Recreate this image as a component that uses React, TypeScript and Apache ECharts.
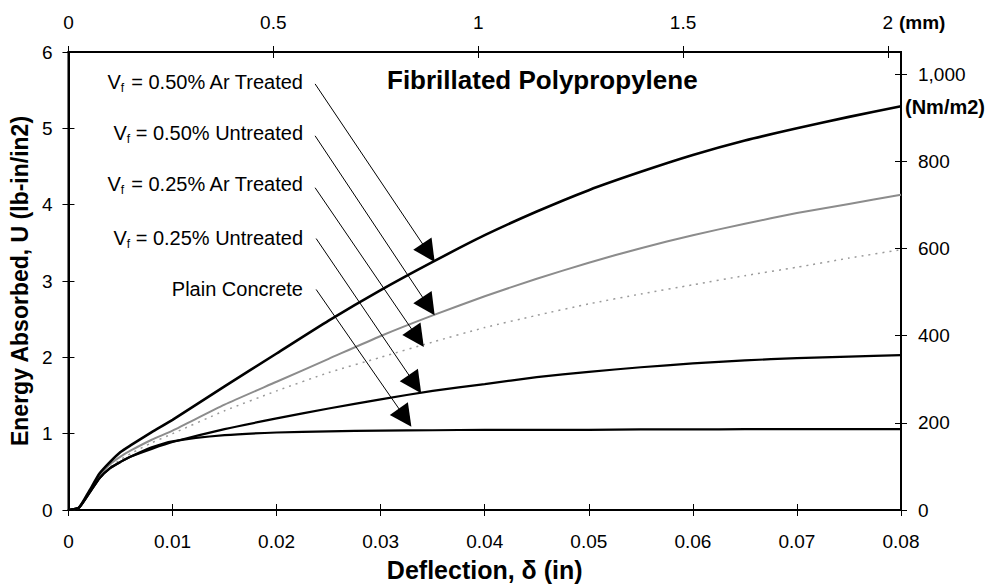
import React, { useEffect, useRef } from "react";
import * as echarts from "echarts";

// Deflection (in)
const deflection = [0, 0.001, 0.002, 0.003, 0.004, 0.005, 0.006, 0.008, 0.01, 0.015, 0.02, 0.025, 0.03, 0.035, 0.04, 0.045, 0.05, 0.055, 0.06, 0.065, 0.07, 0.075, 0.08];

// Energy absorbed U (lb-in/in2)
const arTreated050 = [0, 0.03, 0.25, 0.48, 0.63, 0.76, 0.85, 1.02, 1.18, 1.62, 2.05, 2.48, 2.88, 3.25, 3.6, 3.91, 4.19, 4.43, 4.65, 4.84, 5.0, 5.15, 5.29];
const untreated050 = [0, 0.03, 0.24, 0.45, 0.6, 0.7, 0.78, 0.92, 1.04, 1.38, 1.68, 1.98, 2.28, 2.55, 2.8, 3.03, 3.24, 3.43, 3.6, 3.75, 3.89, 4.01, 4.13];
const arTreated025 = [0, 0.03, 0.22, 0.42, 0.56, 0.66, 0.74, 0.88, 1.0, 1.3, 1.56, 1.8, 2.0, 2.2, 2.39, 2.55, 2.7, 2.83, 2.95, 3.07, 3.18, 3.3, 3.41];
const untreated025 = [0, 0.03, 0.22, 0.42, 0.55, 0.63, 0.7, 0.8, 0.89, 1.06, 1.2, 1.33, 1.45, 1.56, 1.65, 1.74, 1.81, 1.87, 1.92, 1.96, 1.99, 2.01, 2.03];
const plainConcrete = [0, 0.03, 0.22, 0.42, 0.55, 0.63, 0.7, 0.82, 0.9, 0.98, 1.015, 1.03, 1.04, 1.045, 1.05, 1.05, 1.05, 1.055, 1.055, 1.06, 1.06, 1.06, 1.06];

// Annotation labels (text after the "V_f" symbol)
const labelTexts = [" = 0.50% Ar Treated", " = 0.50% Untreated", " = 0.25% Ar Treated", " = 0.25% Untreated", "Plain Concrete"];
const labelHasVf = [true, true, true, true, false];

// Axis ranges
const xMax = 0.08;
const yMax = 6;
const mmMax = 0.08 * 25.4; // 2.032 mm
const nmMax = 6 * 175.127; // N·m/m2 equivalent

const pair = (xs: number[], ys: number[]) => xs.map((x, i) => [x, ys[i]]);

export default function App() {
  const ref = useRef<HTMLDivElement>(null);
  useEffect(() => {
    if (!ref.current) return;
    const chart = echarts.init(ref.current, undefined, { renderer: "svg" });
    const font = "'Liberation Sans', Arial, Helvetica, sans-serif";

    // arrow start (near label) and head-centre, in data coords
    const arrowStart = [[0.0237, 5.582], [0.0237, 4.902], [0.0237, 4.222], [0.0238, 3.556], [0.0238, 2.889]];
    const arrowEnd = [[0.0346, 3.37], [0.0346, 2.67], [0.03355, 2.255], [0.0333, 1.65], [0.03235, 1.21]];
    const labelY = [82, 133, 184, 238, 289];

    const isMult = (v: number, step: number) => Math.abs(v / step - Math.round(v / step)) < 1e-6;

    const baseTickX = { min: 0, max: xMax, interval: 0.01 };
    const baseTickTop = { min: 0, max: mmMax, interval: 0.5 };
    const baseTickY = { min: 0, max: yMax, interval: 1 };
    const baseTickR = { min: 0, max: nmMax, interval: 200 };

    const axisLine = { show: true, onZero: false, lineStyle: { color: "#000", width: 2 } };
    const lbl = { color: "#000", fontSize: 19, fontFamily: font };
    const insideCopy = {
      axisLine: { show: false, onZero: false },
      axisLabel: { show: false },
      axisTick: { show: true, inside: true, length: 6, lineStyle: { color: "#000", width: 1 } },
      splitLine: { show: false },
    };
    const outTick = { show: true, inside: false, length: 6, lineStyle: { color: "#000", width: 1 } };

    const option: any = {
      animation: false,
      backgroundColor: "#fff",
      title: {
        text: "Fibrillated Polypropylene",
        left: 382,
        top: 62,
        textStyle: { fontSize: 26, fontWeight: "bold", color: "#000", fontFamily: font },
      },
      grid: { left: 64, right: 89, top: 52, bottom: 76, containLabel: false, show: true, borderColor: "#000", borderWidth: 2, backgroundColor: "transparent" },
      xAxis: [
        {
          type: "value", position: "bottom", ...baseTickX,
          axisLine, axisTick: outTick, splitLine: { show: false },
          axisLabel: { ...lbl, margin: 22, formatter: (v: number) => (v === 0 ? "0" : v.toFixed(2)) },
          name: "Deflection, \u03b4 (in)", nameLocation: "middle", nameGap: 47,
          nameTextStyle: { fontSize: 25, fontWeight: "bold", color: "#000", fontFamily: font },
        },
        {
          type: "value", position: "top", ...baseTickTop,
          axisLine, axisTick: outTick, splitLine: { show: false },
          axisLabel: { ...lbl, margin: 20, showMaxLabel: false, formatter: (v: number) => (isMult(v, 0.5) ? String(v) : "") },
        },
        { type: "value", position: "bottom", ...baseTickX, ...insideCopy },
        { type: "value", position: "top", ...baseTickTop, ...insideCopy },
      ],
      yAxis: [
        {
          type: "value", position: "left", ...baseTickY,
          axisLine, axisTick: outTick, splitLine: { show: false },
          axisLabel: { ...lbl, margin: 16 },
          name: "Energy Absorbed, U (lb-in/in2)", nameLocation: "middle", nameGap: 31,
          nameTextStyle: { fontSize: 23, fontWeight: "bold", color: "#000", fontFamily: font },
        },
        {
          type: "value", position: "right", ...baseTickR,
          axisLine, axisTick: outTick, splitLine: { show: false },
          axisLabel: {
            ...lbl, margin: 17, showMaxLabel: false,
            formatter: (v: number) => (isMult(v, 200) ? (v >= 1000 ? "1,000" : String(Math.round(v))) : ""),
          },
        },
        { type: "value", position: "left", ...baseTickY, ...insideCopy },
        { type: "value", position: "right", ...baseTickR, ...insideCopy },
      ],
      graphic: [
        ...labelTexts.map((t, i) => ({
          type: "text",
          x: 303,
          y: labelY[i],
          silent: true,
          style: {
            text: labelHasVf[i] ? `{v|V}{s|f}{v|${t}}` : `{v|${t}}`,
            align: "right",
            verticalAlign: "middle",
            fill: "#000",
            rich: {
              v: { fontSize: 20, fontFamily: font, color: "#000", lineHeight: 24 },
              s: { fontSize: 12, fontFamily: font, color: "#000", verticalAlign: "bottom", lineHeight: 24 },
            },
          },
        })),
        {
          type: "text", x: 905, y: 107, silent: true,
          style: { text: "(Nm/m2)", fontSize: 20, fontWeight: "bold", fontFamily: font, fill: "#000", align: "left", verticalAlign: "middle" },
        },
        {
          type: "text", x: 899, y: 22, silent: true,
          style: { text: "(mm)", fontSize: 19, fontWeight: "bold", fontFamily: font, fill: "#000", align: "left", verticalAlign: "middle" },
        },
      ],
      series: [
        {
          name: "Vf = 0.25% Ar Treated", type: "line", showSymbol: false, smooth: 0.2,
          data: pair(deflection, arTreated025),
          lineStyle: { color: "#9a9a9a", width: 1.5, type: [2, 5] },
        },
        {
          name: "Vf = 0.50% Untreated", type: "line", showSymbol: false, smooth: 0.2,
          data: pair(deflection, untreated050),
          lineStyle: { color: "#8c8c8c", width: 2 },
        },
        {
          name: "Plain Concrete", type: "line", showSymbol: false, smooth: 0.2,
          data: pair(deflection, plainConcrete),
          lineStyle: { color: "#000", width: 2.2 },
          markLine: {
            silent: true,
            symbol: ["none", "triangle"],
            symbolSize: 22,
            label: { show: false },
            lineStyle: { color: "#000", width: 1, type: "solid" },
            data: arrowStart.map((s, i) => [{ coord: s }, { coord: arrowEnd[i] }]),
          },
        },
        {
          name: "Vf = 0.25% Untreated", type: "line", showSymbol: false, smooth: 0.2,
          data: pair(deflection, untreated025),
          lineStyle: { color: "#000", width: 2.2 },
        },
        {
          name: "Vf = 0.50% Ar Treated", type: "line", showSymbol: false, smooth: 0.2,
          data: pair(deflection, arTreated050),
          lineStyle: { color: "#000", width: 2.6 },
        },
      ],
    };
    chart.setOption(option);
    return () => chart.dispose();
  }, []);
  return <div ref={ref} style={{ position: "fixed", left: 0, top: 0, width: 990, height: 587, background: "#fff" }} />;
}
